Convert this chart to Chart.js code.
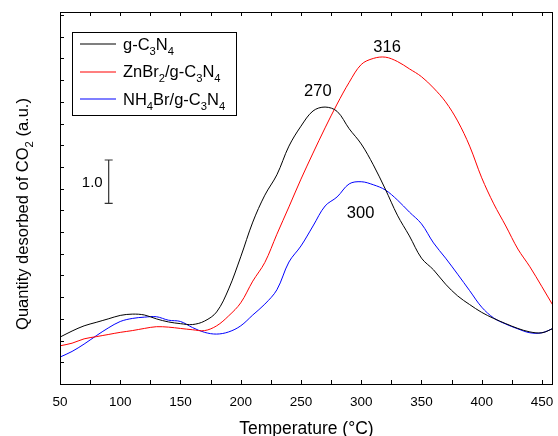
<!DOCTYPE html>
<html><head><meta charset="utf-8">
<script src="https://cdn.jsdelivr.net/npm/chart.js@4.4.1/dist/chart.umd.min.js"></script>
<style>html,body{margin:0;padding:0;background:#fff}canvas{display:block}</style>
</head><body>
<canvas id="c" width="558" height="436"></canvas>
<script>
// ---- data ----
const temperatures = [50,60,70,80,90,100,110,120,130,140,150,160,170,180,190,200,210,220,230,240,250,260,270,280,290,300,310,320,330,340,350,360,370,380,390,400,410,420,430,440,450,460];
const gC3N4 = [1.08,1.22,1.34,1.42,1.50,1.58,1.61,1.59,1.50,1.43,1.39,1.37,1.45,1.66,2.19,2.93,3.73,4.35,4.82,5.48,5.94,6.29,6.38,6.28,5.88,5.53,5.05,4.49,3.89,3.41,2.90,2.63,2.30,2.03,1.83,1.65,1.51,1.39,1.28,1.20,1.18,1.29];
const znBr2 = [0.88,0.94,1.04,1.09,1.14,1.19,1.23,1.28,1.32,1.31,1.28,1.25,1.23,1.34,1.57,1.87,2.37,2.80,3.45,4.08,4.72,5.32,5.90,6.45,6.95,7.36,7.50,7.53,7.43,7.26,7.08,6.82,6.50,6.06,5.48,4.75,4.15,3.64,3.11,2.70,2.24,1.77];
const nh4Br = [0.62,0.75,0.92,1.11,1.29,1.44,1.51,1.54,1.55,1.47,1.44,1.30,1.19,1.15,1.20,1.34,1.59,1.84,2.17,2.81,3.18,3.64,4.10,4.31,4.61,4.66,4.59,4.47,4.24,3.96,3.69,3.25,2.90,2.53,2.15,1.77,1.52,1.38,1.27,1.18,1.18,1.29];
const seriesLabels = ['g-C₃N₄', 'ZnBr₂/g-C₃N₄', 'NH₄Br/g-C₃N₄'];
const seriesColors = ['#000000', '#ff0000', '#0000ff'];
const xTickLabels = [50,100,150,200,250,300,350,400,450];
const xMinorTicks = [75,125,175,225,275,325,375,425];
const yTicks = [0,0.5,1,1.5,2,2.5,3,3.5,4,4.5,5,5.5,6,6.5,7,7.5,8,8.5];
const peakLabels = ['270', '316', '300'];
const peakLabelX = [264, 321.5, 299.5];
const peakLabelY = [6.77, 7.79, 3.97];
const scaleBarX = [90.4, 90.4];
const scaleBarY = [4.16, 5.16];
const scaleBarLabel = '1.0';
const xTitle = 'Temperature (°C)';
const yTitle = 'Quantity desorbed of CO₂ (a.u.)';

const FONT = "'Liberation Sans', Arial, sans-serif";
const SUB = {'₀':'0','₁':'1','₂':'2','₃':'3','₄':'4','₅':'5','₆':'6','₇':'7','₈':'8','₉':'9'};
const SUBR = 0.68;

function runs(text){
  const out=[];
  for(const ch of text){
    const sub = ch in SUB;
    const c = sub ? SUB[ch] : ch;
    if(out.length && out[out.length-1].sub===sub) out[out.length-1].t+=c;
    else out.push({t:c, sub});
  }
  return out;
}
function richWidth(ctx, text, size){
  let w=0;
  for(const r of runs(text)){
    ctx.font = (r.sub? size*SUBR : size)+'px '+FONT;
    w += ctx.measureText(r.t).width;
  }
  return w;
}
function drawRich(ctx, text, x, cy, size, align){
  const w = richWidth(ctx, text, size);
  let cx = align==='center' ? x - w/2 : (align==='right' ? x - w : x);
  const base = cy + 0.36*size;
  ctx.textBaseline='alphabetic'; ctx.textAlign='left';
  for(const r of runs(text)){
    const s = r.sub? size*SUBR : size;
    ctx.font = s+'px '+FONT;
    ctx.fillText(r.t, cx, r.sub ? base + size*0.3 : base);
    cx += ctx.measureText(r.t).width;
  }
}

const decorPlugin = {
  id:'decor',
  afterDatasetsDraw(chart){
    const ctx = chart.ctx, a = chart.chartArea, xs = chart.scales.x, ys = chart.scales.y;
    ctx.save();
    ctx.strokeStyle='#000'; ctx.lineWidth=1;
    ctx.strokeRect(Math.round(a.left)+0.5, Math.round(a.top)+0.5, Math.round(a.right-a.left)-1, Math.round(a.bottom-a.top));
    ctx.beginPath();
    const tl = 4;
    for(const v of xTickLabels.concat(xMinorTicks)){
      const px = Math.round(xs.getPixelForValue(v))+0.5;
      ctx.moveTo(px, a.bottom); ctx.lineTo(px, a.bottom - tl);
      ctx.moveTo(px, a.top); ctx.lineTo(px, a.top + tl);
    }
    for(const v of yTicks){
      const py = Math.round(ys.getPixelForValue(v))+0.5;
      ctx.moveTo(a.left, py); ctx.lineTo(a.left + tl, py);
    }
    ctx.stroke();
    ctx.fillStyle='#000';
    peakLabels.forEach((t,i)=>{
      drawRich(ctx, t, xs.getPixelForValue(peakLabelX[i]), ys.getPixelForValue(peakLabelY[i]), 16.5, 'center');
    });
    drawRich(ctx, scaleBarLabel, xs.getPixelForValue(scaleBarX[0]) - 6, ys.getPixelForValue((scaleBarY[0]+scaleBarY[1])/2), 15, 'right');
    ctx.save();
    ctx.translate(22, 214);
    ctx.rotate(-Math.PI/2);
    drawRich(ctx, yTitle, 0, 0, 16.5, 'center');
    ctx.restore();
    const lx=72, ly=32, lw=164, lh=83;
    ctx.fillStyle='#fff'; ctx.fillRect(lx, ly, lw, lh);
    ctx.strokeStyle='#000'; ctx.lineWidth=1;
    ctx.strokeRect(lx+0.5, ly+0.5, lw, lh);
    const rows=[44, 71.5, 99];
    seriesLabels.forEach((lab,i)=>{
      ctx.strokeStyle = seriesColors[i]; ctx.lineWidth=1.2;
      ctx.beginPath(); ctx.moveTo(80, Math.round(rows[i])); ctx.lineTo(116, Math.round(rows[i])); ctx.stroke();
      ctx.fillStyle='#000';
      drawRich(ctx, lab, 123, rows[i], 16.5, 'left');
    });
    ctx.restore();
  }
};

const datasets = [gC3N4, znBr2, nh4Br].map((arr,i)=>({
  label: seriesLabels[i],
  data: temperatures.map((t,j)=>({x:t, y:arr[j]})),
  borderColor: seriesColors[i], borderWidth: 1, pointRadius: 0,
  tension: 0.35, fill:false
}));
datasets.push({
  label: 'scale bar',
  data: scaleBarX.map((x,i)=>({x, y:scaleBarY[i]})),
  borderColor:'#333', borderWidth:1.2, pointStyle:'line', pointRadius:4,
  pointBorderColor:'#333', pointBorderWidth:1.2, pointBackgroundColor:'#333'
});

new Chart(document.getElementById('c'), {
  type:'line',
  data:{datasets},
  options:{
    responsive:false, animation:false, devicePixelRatio:1,
    layout:{padding:{top:12, right:1, left:0, bottom:0}},
    plugins:{legend:{display:false}, tooltip:{enabled:false}, title:{display:false}},
    scales:{
      x:{
        type:'linear', min:50, max:459,
        grid:{display:false, drawTicks:false}, border:{display:false},
        afterBuildTicks: s => { s.ticks = xTickLabels.map(v=>({value:v})); },
        ticks:{font:{family:FONT, size:13.5}, color:'#000', padding:10, maxRotation:0, autoSkip:false},
        title:{display:true, text:xTitle, font:{family:FONT, size:17.5, lineHeight:1}, color:'#000', padding:{top:0, bottom:-2}},
        afterFit: s => { s.height = 52; s.paddingLeft = 0; s.paddingRight = 0; }
      },
      y:{
        type:'linear', min:0, max:8.57,
        grid:{display:false, drawTicks:false}, border:{display:false},
        ticks:{display:false},
        afterFit: s => { s.width = 60; }
      }
    }
  },
  plugins:[decorPlugin]
});
</script>
</body></html>
